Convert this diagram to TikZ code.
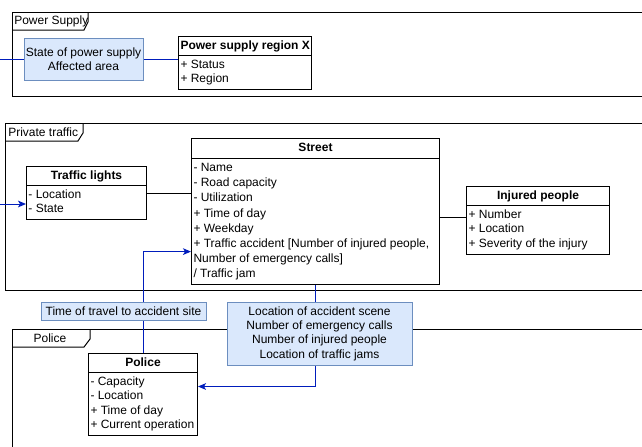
\documentclass[tikz,border=0pt]{standalone}
\usepackage{fontspec}
\setmainfont{Liberation Sans}
\usetikzlibrary{shapes.multipart,positioning,arrows.meta}

\definecolor{notefill}{HTML}{DAE8FC}
\definecolor{notedraw}{HTML}{6C8EBF}
\definecolor{flowblue}{HTML}{001DBC}

\tikzset{
  umlclass/.style={rectangle split, rectangle split parts=2, draw, fill=white,
    rectangle split part align={center,left},
    line width=0.75pt, inner xsep=1.5pt, inner ysep=1.5pt, align=left,
    font=\fontsize{9}{10.8}\selectfont, anchor=north west,
    execute at end node=\strut},
  note/.style={draw=notedraw, fill=notefill, line width=0.75pt, align=center,
    font=\fontsize{9}{10.8}\selectfont, inner sep=0pt},
  frame/.style={draw=black, line width=0.75pt},
  tablabel/.style={font=\fontsize{9}{10.8}\selectfont, inner sep=0pt},
  assoc/.style={draw=black, line width=0.75pt},
  flow/.style={draw=flowblue, line width=0.75pt},
  flowarrow/.style={flow, -{Stealth[length=6pt,width=5pt,inset=1.5pt]}}
}
\newcommand{\classname}[1]{\strut\textbf{#1}}
\newcommand{\attrs}{\nodepart{two}\strut}

\begin{document}
\begin{tikzpicture}[x=0.75pt,y=-0.75pt]
          \useasboundingbox (0,0) rectangle (642,446);
          \clip (0,0) rectangle (642,446);
          % frames
          \draw[frame] (650,12) -- (12,12) -- (12,96) -- (650,96);
          \draw[frame] (12,30) -- (84,30) -- (88,22) -- (88,12);
          \node[tablabel, anchor=west] (pstab) at (14,21) {Power Supply};
          \draw[frame] (650,123) -- (5,123) -- (5,290) -- (650,290);
          \draw[frame] (5,141) -- (78,141) -- (83,133) -- (83,123);
          \node[tablabel, anchor=west] (pttab) at (8,132) {Private traffic};
          \draw[frame] (650,329) -- (12,329) -- (12,450);
          \draw[frame] (12,347) -- (84,347) -- (90,339) -- (90,329);
          \node[tablabel] (poltab) at (50,338) {Police};
          % classes
          \node[umlclass, minimum width=99pt] (psregion) at (178,36)
              {\classname{Power supply region X}\attrs + Status\\+ Region};
          \node[umlclass, minimum width=90pt] (trafficlights) at (26,166)
              {\classname{Traffic lights}\attrs - Location\\- State};
          \node[umlclass, minimum width=186pt, font=\fontsize{9}{11.35}\selectfont] (street) at (191,138)
              {\classname{Street}\attrs - Name\\- Road capacity\\- Utilization\\+ Time of day\\+ Weekday\\
               + Traffic accident [Number of injured people,\\Number of emergency calls]\\/ Traffic jam};
          \node[umlclass, minimum width=107.25pt, minimum height=51.75pt] (injured) at (466,186)
              {\classname{Injured people}\attrs + Number\\+ Location\\+ Severity of the injury};
          \node[umlclass, minimum width=81.75pt] (police) at (88,353)
              {\classname{Police}\attrs - Capacity\\- Location\\+ Time of day\\+ Current operation};
          % connectors
          \coordinate (psin) at (-2,59);
          \coordinate (tlin) at (-2,204);
          \draw[flow] (psin) -- (psin -| 24,0);
          \draw[assoc] (trafficlights.east) -- (trafficlights.east -| street.west);
          \draw[assoc] ([yshift=2pt]injured.west) -- ([yshift=2pt]injured.west -| street.east);
          \draw[flowarrow] (tlin) -- (tlin -| trafficlights.west);
          \draw[flowarrow] (police.north) |- ([yshift=-30pt]street.west);
          \draw[flowarrow] (street.south) |- ([yshift=6pt]police.east);
          % notes
          \node[note, minimum width=89.25pt, minimum height=31.5pt] (psnote) at (83.5,59)
              {State of power supply\\Affected area};
          \draw[flow] (psnote.east) -- (psnote.east -| psregion.west);
          \node[note, minimum width=123.75pt, minimum height=13.5pt] (timenote) at (123.5,311)
              {Time of travel to accident site};
          \node[note, minimum width=138.75pt, minimum height=47.25pt] (accnote) at (319.5,333.5)
              {Location of accident scene\\Number of emergency calls\\Number of injured people\\Location of traffic jams};
\end{tikzpicture}
\end{document}
